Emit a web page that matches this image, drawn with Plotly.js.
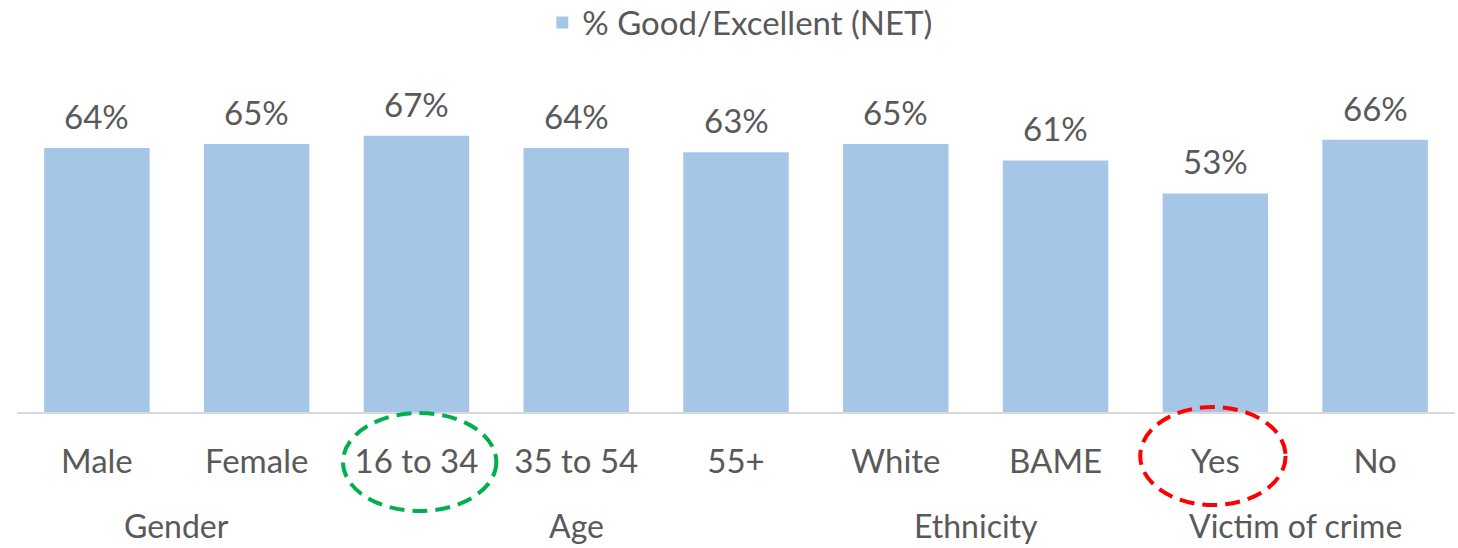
<!DOCTYPE html>
<html>
<head>
<meta charset="utf-8">
<script src="https://cdn.plot.ly/plotly-3.0.1.min.js"></script>
<style>html,body{margin:0;padding:0;background:#fff;}#chart{width:1458px;height:548px;}</style>
</head>
<body>
<div id="chart"></div>
<script>
const categories = ["Male", "Female", "16 to 34", "35 to 54", "55+", "White", "BAME", "Yes", "No"];
const values = [64, 65, 67, 64, 63, 65, 61, 53, 66];
const groupLabels = ["Gender", "Age", "Ethnicity", "Victim of crime"];
const groupCenters = [0.5, 3, 5.5, 7.5];
const seriesName = "% Good/Excellent (NET)";

const FONT = "Lato, 'Open Sans', sans-serif";
const TXT = "#595959";
const FS = 33;
const xIdx = categories.map((c, i) => i);

const trace = {
  type: "bar",
  x: xIdx,
  y: values,
  name: seriesName,
  marker: { color: "#A6C6E8" },
  showlegend: true,
  hoverinfo: "skip"
};

const annotations = [];
values.forEach((v, i) => {
  annotations.push({
    x: i, y: v, xref: "x", yref: "y",
    text: v + "%", showarrow: false,
    yanchor: "bottom", yshift: 10,
    font: { family: FONT, size: FS, color: TXT }
  });
});
groupLabels.forEach((g, i) => {
  annotations.push({
    x: groupCenters[i], y: -0.345, xref: "x", yref: "paper",
    text: g, showarrow: false, yanchor: "middle",
    font: { family: FONT, size: 32, color: TXT }
  });
});

const layout = {
  width: 1458, height: 548,
  margin: { l: 17, r: 3, t: 82, b: 136, autoexpand: false },
  paper_bgcolor: "#fff", plot_bgcolor: "#fff",
  bargap: 0.34,
  font: { family: FONT, color: TXT },
  xaxis: {
    range: [-0.5, 8.5],
    tickmode: "array", tickvals: xIdx, ticktext: categories,
    tickfont: { family: FONT, size: FS, color: TXT },
    showline: true, linecolor: "#d9d9d9", linewidth: 1.5,
    ticks: "", showgrid: false, zeroline: false,
    ticklabelstandoff: 20
  },
  yaxis: { range: [0, 80], visible: false, showgrid: false, zeroline: false },
  legend: {
    orientation: "h", x: 0.503, xanchor: "center", y: 1.18, yanchor: "middle",
    font: { family: FONT, size: FS, color: TXT }
  },
  annotations: annotations,
  shapes: [
    { type: "circle", xref: "x", yref: "paper", x0: 1.54, x1: 2.5, y0: -0.003, y1: -0.3,
      line: { color: "#00B050", width: 4, dash: "15px,8px" } },
    { type: "circle", xref: "x", yref: "paper", x0: 6.53, x1: 7.44, y0: 0.015, y1: -0.282,
      line: { color: "#FF0000", width: 4, dash: "15px,8px" } }
  ]
};

Plotly.newPlot("chart", [trace], layout, { displayModeBar: false, staticPlot: true });
</script>
</body>
</html>
